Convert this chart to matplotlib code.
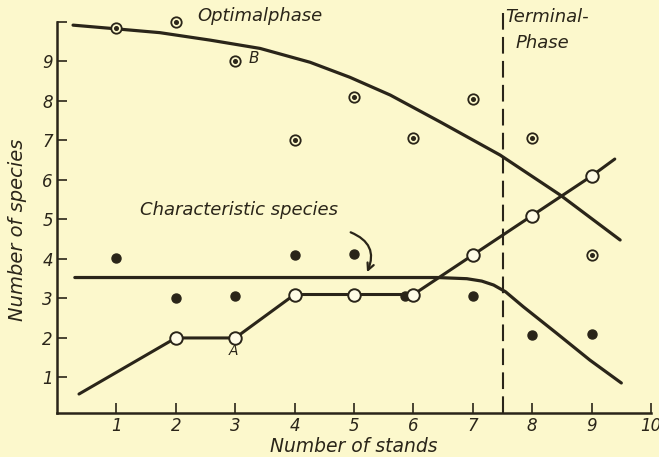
import matplotlib.pyplot as plt

# --- values ---
stands = [1, 2, 3, 4, 5, 6, 7, 8, 9]
optimal_pts = [9.85, 10.0, 9.0, 7.0, 8.1, 7.05, 8.05, 7.05, 4.1]
charact_pts = [4.02, 3.0, 3.05, 4.1, 4.12, 3.05, 3.05, 2.07, 2.1]
charact_x = [1, 2, 3, 4, 5, 5.85, 7, 8, 9]

# fitted curves as drawn
opt_curve_x = [0.27, 0.89, 1.73, 2.58, 3.42, 4.26, 4.93, 5.61, 6.45, 7.46, 8.47, 9.48]
opt_curve_y = [9.92, 9.84, 9.73, 9.54, 9.33, 8.98, 8.6, 8.15, 7.47, 6.63, 5.62, 4.48]
char_curve_x = [0.3, 6.4, 6.9, 7.15, 7.35, 7.55, 7.85, 8.41, 8.97, 9.5]
char_curve_y = [3.53, 3.53, 3.5, 3.44, 3.34, 3.17, 2.79, 2.12, 1.44, 0.86]

# open circles (A line)
a_line_x = [0.37, 2, 3, 4, 5, 6, 7, 8, 9, 9.39]
a_line_y = [0.58, 2.0, 2.0, 3.1, 3.1, 3.1, 4.1, 5.1, 6.1, 6.53]
a_pts_x = [2, 3, 4, 5, 6, 7, 8, 9]
a_pts_y = [2.0, 2.0, 3.1, 3.1, 3.1, 4.1, 5.1, 6.1]

bg = '#fcf8cc'
ink = '#2a2519'
font = dict(family=['Liberation Sans Narrow', 'DejaVu Sans'], style='italic', color=ink)

fig = plt.figure(figsize=(6.59, 4.57), dpi=100, facecolor=bg)
ax = fig.add_axes([0.0865, 0.0963, 0.9014, 0.8556], facecolor=bg)
ax.set_xlim(0, 10)
ax.set_ylim(0.1, 10)

for s in ['top', 'right']:
    ax.spines[s].set_visible(False)
for s in ['left', 'bottom']:
    ax.spines[s].set_color(ink)
    ax.spines[s].set_linewidth(1.8)

ax.set_xticks(range(1, 11))
ax.set_xticklabels([str(i) for i in range(1, 11)], fontdict=dict(size=12, **font))
ax.set_yticks(range(1, 11))
ax.set_yticklabels([str(i) for i in range(1, 10)] + [''], fontdict=dict(size=12, **font))
ax.tick_params(direction='in', length=7, width=1.2, color=ink, pad=3)

# curves
ax.plot(opt_curve_x, opt_curve_y, color=ink, lw=2.3, solid_capstyle='round')
ax.plot(char_curve_x, char_curve_y, color=ink, lw=2.3, solid_capstyle='round')
ax.plot(a_line_x, a_line_y, color=ink, lw=2.2, solid_capstyle='round', zorder=3)

# points
ax.plot(stands, optimal_pts, 'o', ms=7.5, mfc=bg, mec=ink, mew=1.3, zorder=4, clip_on=False)
ax.plot(stands, optimal_pts, 'o', ms=2.6, color=ink, zorder=5, clip_on=False)
ax.plot(charact_x, charact_pts, 'o', ms=6.5, color=ink, zorder=4)
ax.plot(a_pts_x, a_pts_y, 'o', ms=9, mfc='#fffce6', mec=ink, mew=1.4, zorder=5)

# phase boundary
ax.plot([7.5, 7.5], [0.1, 10.25], color=ink, lw=1.5, dashes=(8, 3.5), clip_on=False)

# text
ax.text(2.36, 10.15, 'Optimalphase', fontsize=13, va='center', ha='left', **font)
ax.text(7.55, 10.12, 'Terminal-', fontsize=13, va='center', ha='left', **font)
ax.text(7.72, 9.47, 'Phase', fontsize=13, va='center', ha='left', **font)
ax.text(1.4, 5.24, 'Characteristic species', fontsize=13, va='center', ha='left', **font)
ax.text(3.22, 9.08, 'B', fontsize=11, va='center', ha='left', **font)
ax.text(2.97, 1.66, 'A', fontsize=10, va='center', ha='center', **font)

ax.annotate('', xy=(5.2, 3.6), xytext=(4.9, 4.7),
            arrowprops=dict(arrowstyle='->', color=ink, lw=1.6,
                            connectionstyle='arc3,rad=-0.55', mutation_scale=12))

fig.text(354 / 659, 1 - 446 / 457, 'Number of stands', fontsize=13.5,
         ha='center', va='center', **font)
fig.text(18 / 659, 1 - 230 / 457, 'Number of species', fontsize=14,
         ha='center', va='center', rotation=90, **font)

plt.savefig('out.png', dpi=100, facecolor=bg)
